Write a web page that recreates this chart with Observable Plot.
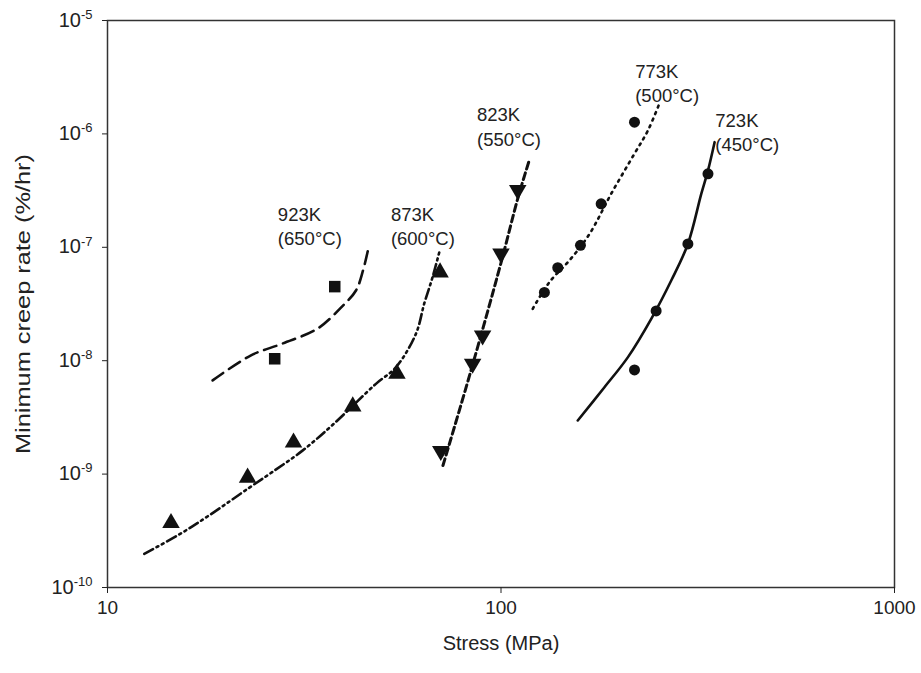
<!DOCTYPE html>
<html>
<head>
<meta charset="utf-8">
<script src="https://cdn.jsdelivr.net/npm/d3@7"></script>
<script src="https://cdn.jsdelivr.net/npm/@observablehq/plot@0.6"></script>
<style>
  html, body { margin: 0; padding: 0; background: #fff; }
  #chart { width: 921px; height: 673px; }
</style>
</head>
<body>
<div id="chart"></div>
<script>
// ---- Data ----
const xTicks = [10, 100, 1000];
const yTicks = [1e-10, 1e-9, 1e-8, 1e-7, 1e-6, 1e-5];

// measured points
const pts923Stress = [26.6, 37.8];
const pts923Rate   = [1.04e-8, 4.5e-8];
const pts873Stress = [14.5, 22.7, 29.7, 42.0, 54.4, 70.0];
const pts873Rate   = [3.7e-10, 9.3e-10, 1.9e-9, 3.95e-9, 7.7e-9, 6.0e-8];
const pts823Stress = [70.3, 84.7, 89.8, 100, 110.3];
const pts823Rate   = [1.6e-9, 9.4e-9, 1.67e-8, 8.8e-8, 3.2e-7];
const pts773Stress = [128.9, 139.4, 159.2, 179.7, 218.4];
const pts773Rate   = [4.0e-8, 6.6e-8, 1.04e-7, 2.42e-7, 1.27e-6];
const pts723Stress = [218.4, 247.9, 298.5, 335.7];
const pts723Rate   = [8.3e-9, 2.75e-8, 1.07e-7, 4.45e-7];

// fitted curves
const fit923Stress = [18.5, 23.1, 27.9, 34.2, 39.2, 42.8, 44.6, 45.9];
const fit923Rate   = [6.7e-9, 1.11e-8, 1.42e-8, 1.92e-8, 2.94e-8, 4.16e-8, 6.24e-8, 9.4e-8];
const fit873Stress = [12.4, 15.2, 18.1, 22.9, 26.2, 31.3, 37.6, 48.1, 54.1, 60.8, 63.8, 67.0, 69.7];
const fit873Rate   = [1.98e-10, 2.93e-10, 4.31e-10, 7.57e-10, 1.04e-9, 1.61e-9, 2.78e-9, 6.25e-9, 8.77e-9, 1.73e-8, 3.18e-8, 5.45e-8, 9.06e-8];
const fit823Stress = [71.2, 83.9, 100, 110.5, 117.9];
const fit823Rate   = [1.19e-9, 8.2e-9, 7.3e-8, 2.75e-7, 5.8e-7];
const fit773Stress = [120.4, 132.7, 149.2, 167.8, 190.5, 218.4, 236.2, 252.9];
const fit773Rate   = [2.87e-8, 4.92e-8, 7.65e-8, 1.31e-7, 2.96e-7, 6.7e-7, 1.07e-6, 1.87e-6];
const fit723Stress = [156.7, 183.2, 210, 240.9, 270.8, 298.5, 322.8, 335.7, 349];
const fit723Rate   = [2.97e-9, 5.84e-9, 1.07e-8, 2.34e-8, 5.1e-8, 1.07e-7, 2.96e-7, 4.75e-7, 8.45e-7];

// labels
const labelText = ["923K\n(650°C)", "873K\n(600°C)", "823K\n(550°C)", "773K\n(500°C)", "723K\n(450°C)"];
const labelX    = [27.1, 52.5, 86.9, 219.3, 350.4];
const labelY    = [2.43e-7, 2.43e-7, 1.82e-6, 4.44e-6, 1.64e-6];

// ---- build tables ----
const zip = (xs, ys) => xs.map((x, i) => ({x, y: ys[i]}));
const P923 = zip(pts923Stress, pts923Rate), P873 = zip(pts873Stress, pts873Rate),
      P823 = zip(pts823Stress, pts823Rate), P773 = zip(pts773Stress, pts773Rate),
      P723 = zip(pts723Stress, pts723Rate);
const F923 = zip(fit923Stress, fit923Rate), F873 = zip(fit873Stress, fit873Rate),
      F823 = zip(fit823Stress, fit823Rate), F773 = zip(fit773Stress, fit773Rate),
      F723 = zip(fit723Stress, fit723Rate);
const labels = labelText.map((t, i) => ({t, x: labelX[i], y: labelY[i]}));

const ink = "#111";
const curve = "catmull-rom";

const chart = Plot.plot({
  width: 921,
  height: 673,
  marginLeft: 107,
  marginRight: 27,
  marginTop: 20,
  marginBottom: 86,
  style: {fontFamily: "'Liberation Sans', Arial, sans-serif", fontSize: "19px", color: "#222", background: "#fff"},
  x: {type: "log", domain: [10, 1000]},
  y: {type: "log", domain: [1e-10, 1e-5]},
  marks: [
    Plot.frame({stroke: "#333", strokeWidth: 1.5}),
    Plot.axisX({ticks: xTicks, tickSize: 6, tickPadding: 7, tickFormat: d => String(d),
      label: "Stress (MPa)", labelAnchor: "center", labelArrow: "none", labelOffset: 62, fontSize: 19}),
    Plot.axisY({ticks: yTicks, tickSize: 5, tickPadding: 10,
      tickFormat: d => "10^" + Math.round(Math.log10(d)),
      label: "Minimum creep rate (%/hr)", labelAnchor: "center", labelArrow: "none", labelOffset: 92, fontSize: 19}),
    // fitted lines
    Plot.line(F923, {x: "x", y: "y", curve, stroke: ink, strokeWidth: 2.6, strokeDasharray: "13,7"}),
    Plot.line(F873, {x: "x", y: "y", curve, stroke: ink, strokeWidth: 2.6, strokeDasharray: "10,4,2,4,2,4"}),
    Plot.line(F823, {x: "x", y: "y", curve, stroke: ink, strokeWidth: 3, strokeDasharray: "7,4"}),
    Plot.line(F773, {x: "x", y: "y", curve, stroke: ink, strokeWidth: 2.6, strokeDasharray: "2,5"}),
    Plot.line(F723, {x: "x", y: "y", curve, stroke: ink, strokeWidth: 2.6}),
    // data points
    Plot.dot(P923, {x: "x", y: "y", symbol: "square", r: 6.5, fill: ink, stroke: "none"}),
    Plot.dot(P873, {x: "x", y: "y", symbol: "triangle", r: 6.5, fill: ink, stroke: "none"}),
    Plot.dot(P823, {x: "x", y: "y", symbol: "triangle", rotate: 180, r: 6.5, fill: ink, stroke: "none"}),
    Plot.dot(P773, {x: "x", y: "y", symbol: "circle", r: 5.5, fill: ink, stroke: "none"}),
    Plot.dot(P723, {x: "x", y: "y", symbol: "circle", r: 5.5, fill: ink, stroke: "none"}),
    // labels
    Plot.text(labels, {x: "x", y: "y", text: "t", textAnchor: "start", lineAnchor: "top",
      lineHeight: 1.3, fontSize: 18.5, fill: "#222"})
  ]
});

// superscript exponents on y tick labels
d3.select(chart).selectAll('[aria-label="y-axis tick label"] text').each(function() {
  const s = this.textContent;
  const m = s.match(/^10\^(-?\d+)$/);
  if (!m) return;
  const t = d3.select(this);
  t.text(null);
  t.append("tspan").attr("font-size", "20px").text("10");
  t.append("tspan").attr("dy", "-0.6em").attr("font-size", "13px").text(m[1]);
});
// y axis title: taller in the reference (stretched lengthwise)
d3.select(chart).selectAll('[aria-label="y-axis label"] text')
  .attr("font-size", "20px")
  .attr("textLength", 300)
  .attr("lengthAdjust", "spacingAndGlyphs");
d3.select(chart).selectAll('[aria-label="x-axis label"] text').attr("font-size", "20px");

document.getElementById("chart").appendChild(chart);
</script>
</body>
</html>
